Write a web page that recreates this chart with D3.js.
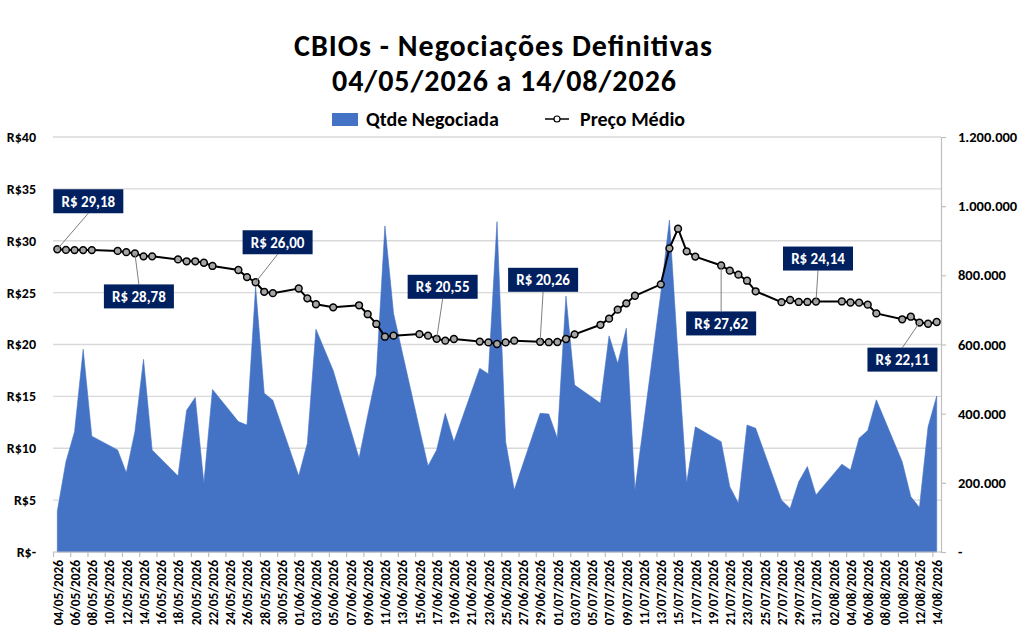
<!DOCTYPE html>
<html><head><meta charset="utf-8">
<script src="https://cdn.jsdelivr.net/npm/d3@7"></script>
<style>body{margin:0;background:#fff} svg{display:block}</style>
</head><body><svg id="c" width="1024" height="638"></svg>
<script>
// ---------- DATA ----------
const title1 = "CBIOs - Negociações Definitivas";
const title2 = "04/05/2026 a 14/08/2026";
const seriesNames = ["Qtde Negociada", "Preço Médio"];

const dates = [
 "2026-05-04","2026-05-05","2026-05-06","2026-05-07","2026-05-08",
 "2026-05-11","2026-05-12","2026-05-13","2026-05-14","2026-05-15",
 "2026-05-18","2026-05-19","2026-05-20","2026-05-21","2026-05-22",
 "2026-05-25","2026-05-26","2026-05-27","2026-05-28","2026-05-29",
 "2026-06-01","2026-06-02","2026-06-03","2026-06-05",
 "2026-06-08","2026-06-09","2026-06-10","2026-06-11","2026-06-12",
 "2026-06-15","2026-06-16","2026-06-17","2026-06-18","2026-06-19",
 "2026-06-22","2026-06-23","2026-06-24","2026-06-25","2026-06-26",
 "2026-06-29","2026-06-30","2026-07-01","2026-07-02","2026-07-03",
 "2026-07-06","2026-07-07","2026-07-08","2026-07-09","2026-07-10",
 "2026-07-13","2026-07-14","2026-07-15","2026-07-16","2026-07-17",
 "2026-07-20","2026-07-21","2026-07-22","2026-07-23","2026-07-24",
 "2026-07-27","2026-07-28","2026-07-29","2026-07-30","2026-07-31",
 "2026-08-03","2026-08-04","2026-08-05","2026-08-06","2026-08-07",
 "2026-08-10","2026-08-11","2026-08-12","2026-08-13","2026-08-14"
];
const qtde = [
 118000,261000,348000,586000,335000,
 295000,229000,348000,557000,295000,
 220000,410000,447000,199000,470000,
 377000,367000,767000,459000,439000,
 220000,314000,644000,525000,
 271000,395000,512000,943000,690000,
 357000,249000,295000,401000,319000,
 531000,515000,955000,319000,179000,
 401000,399000,329000,740000,483000,
 430000,625000,545000,647000,179000,
 748000,960000,565000,199000,362000,
 319000,189000,141000,367000,358000,
 150000,126000,203000,247000,165000,
 254000,237000,329000,351000,440000,
 261000,160000,129000,362000,451000
];
const preco = [
 29.18,29.12,29.10,29.10,29.10,
 29.02,28.90,28.78,28.50,28.50,
 28.20,28.02,28.02,27.88,27.57,
 27.18,26.50,26.00,25.08,24.95,
 25.40,24.45,23.88,23.58,
 23.78,22.92,21.98,20.75,20.85,
 21.00,20.85,20.55,20.37,20.53,
 20.28,20.20,20.05,20.20,20.37,
 20.26,20.22,20.24,20.53,20.98,
 21.90,22.49,23.36,23.97,24.70,
 25.80,29.27,31.16,28.98,28.47,
 27.62,27.12,26.73,26.15,25.13,
 24.08,24.29,24.10,24.10,24.14,
 24.15,24.05,24.03,23.84,23.00,
 22.43,22.68,22.11,22.00,22.17
];
const leftTicks = [0,5,10,15,20,25,30,35,40];
const rightTicks = [0,200000,400000,600000,800000,1000000,1200000];
const calloutDates = ["2026-05-04","2026-05-13","2026-05-27","2026-06-17","2026-06-29","2026-07-20","2026-07-31","2026-08-12"];

// ---------- LAYOUT (styling only) ----------
const calloutOffsets = [[31,-48],[4,43],[22,-40],[6,-52],[3,-62],[0,58],[2,-43],[-17,37]];
const plot = {left:53, right:941, top:137, bottom:552};
const FONT = "Carlito, Lato, 'Open Sans', sans-serif";
const BLUE = "#4472C4", NAVY = "#002060";

const svg = d3.select("#c");
const parse = d3.utcParse("%Y-%m-%d");
const fmtDate = d3.utcFormat("%d/%m/%Y");
const data = dates.map((d,i)=>({date:parse(d), q:qtde[i], p:preco[i]}));
const start = data[0].date, end = data[data.length-1].date;
const halfDay = 12*3600*1000;

const x = d3.scaleUtc().domain([new Date(+start-halfDay), new Date(+end+halfDay)]).range([plot.left, plot.right]);
const yL = d3.scaleLinear().domain([0,40]).range([plot.bottom, plot.top]);
const yR = d3.scaleLinear().domain([0,1200000]).range([plot.bottom, plot.top]);
const halfPx = x(new Date(+start+halfDay)) - x(start);

// gridlines
svg.append("g").selectAll("line").data(leftTicks.filter(t=>t>0)).join("line")
  .attr("x1",plot.left).attr("x2",plot.right)
  .attr("y1",d=>yL(d)).attr("y2",d=>yL(d))
  .attr("stroke","#d9d9d9").attr("stroke-width",1.3);

// area
const area = d3.area().x(d=>x(d.date)).y0(yR(0)).y1(d=>yR(d.q));
svg.append("path").datum(data).attr("d",area).attr("fill",BLUE).attr("stroke",BLUE).attr("stroke-width",0.6);

// left axis labels
const fmtL = v => v===0 ? "R$-" : "R$" + v;
svg.append("g").selectAll("text").data(leftTicks).join("text")
  .attr("x",36).attr("y",d=>yL(d)).attr("dy","0.35em").attr("text-anchor","end")
  .attr("font-family",FONT).attr("font-weight","bold").attr("font-size",14).attr("fill","#000")
  .text(fmtL);

// right axis
const fmtR = v => v===0 ? "-" : d3.format(",")(v).replace(/,/g,".");
const gR = svg.append("g").attr("transform",`translate(${plot.right},0)`)
  .call(d3.axisRight(yR).tickValues(rightTicks).tickSize(5).tickPadding(12).tickFormat(fmtR));
gR.select(".domain").attr("stroke","#bfbfbf").attr("stroke-width",1.2);
gR.selectAll(".tick line").attr("stroke","#bfbfbf").attr("stroke-width",1.2);
gR.selectAll(".tick text").attr("font-family",FONT).attr("font-weight","bold").attr("font-size",14.5).attr("fill","#000");

// bottom axis
const tickDates = d3.range(0, Math.round((end-start)/864e5)+1, 2).map(i=>d3.utcDay.offset(start,i));
const gB = svg.append("g").attr("transform",`translate(0,${plot.bottom})`)
  .call(d3.axisBottom(x).tickValues(tickDates).tickSize(5).tickFormat(fmtDate));
gB.select(".domain").attr("d",`M${plot.left},0H${plot.right}`).attr("stroke","#bfbfbf").attr("stroke-width",1.2);
gB.selectAll(".tick line").attr("transform",`translate(${-halfPx},0)`).attr("stroke","#bfbfbf").attr("stroke-width",1.2);
gB.selectAll(".tick text")
  .attr("transform","rotate(-90)").attr("text-anchor","end").attr("x",-8).attr("y",0).attr("dy","0.36em")
  .attr("font-family",FONT).attr("font-weight","bold").attr("font-size",13.3).attr("fill","#000");

// price line
const line = d3.line().x(d=>x(d.date)).y(d=>yL(d.p));
svg.append("path").datum(data).attr("d",line).attr("fill","none").attr("stroke","#000").attr("stroke-width",2);
svg.append("g").selectAll("circle").data(data).join("circle")
  .attr("cx",d=>x(d.date)).attr("cy",d=>yL(d.p)).attr("r",3.4)
  .attr("fill","#a6a6a6").attr("stroke","#000").attr("stroke-width",1.5);

// callouts
const fmtP = v => "R$ " + v.toFixed(2).replace(".",",");
const bw = 70, bh = 24;
calloutDates.forEach((ds,i)=>{
  const d = data.find(e=>+e.date===+parse(ds));
  const px = x(d.date), py = yL(d.p);
  const cx = px + calloutOffsets[i][0], cy = py + calloutOffsets[i][1];
  const ey = cy > py ? cy - bh/2 : cy + bh/2;
  svg.append("line").attr("x1",cx).attr("y1",ey).attr("x2",px).attr("y2",py)
    .attr("stroke","#7f7f7f").attr("stroke-width",1);
  svg.append("rect").attr("x",cx-bw/2).attr("y",cy-bh/2).attr("width",bw).attr("height",bh).attr("fill",NAVY);
  svg.append("text").attr("x",cx).attr("y",cy).attr("dy","0.36em").attr("text-anchor","middle")
    .attr("font-family",FONT).attr("font-weight","bold").attr("font-size",15).attr("fill","#fff")
    .text(fmtP(d.p));
});

// title
svg.append("text").attr("x",503).attr("y",56).attr("text-anchor","middle")
  .attr("font-family",FONT).attr("font-weight","bold").attr("font-size",30)
  .attr("textLength",418).attr("lengthAdjust","spacing").text(title1);
svg.append("text").attr("x",504).attr("y",91).attr("text-anchor","middle")
  .attr("font-family",FONT).attr("font-weight","bold").attr("font-size",30)
  .attr("textLength",344).attr("lengthAdjust","spacing").text(title2);

// legend
const lg = svg.append("g");
lg.append("rect").attr("x",332).attr("y",113).attr("width",26).attr("height",13).attr("fill",BLUE);
lg.append("text").attr("x",366).attr("y",126).attr("font-family",FONT).attr("font-weight","bold").attr("font-size",20).text(seriesNames[0]);
lg.append("line").attr("x1",545).attr("x2",569).attr("y1",119).attr("y2",119).attr("stroke","#000").attr("stroke-width",1.5);
lg.append("circle").attr("cx",557).attr("cy",119).attr("r",3).attr("fill","#fff").attr("stroke","#000").attr("stroke-width",1.2);
lg.append("text").attr("x",580).attr("y",126).attr("font-family",FONT).attr("font-weight","bold").attr("font-size",20).text(seriesNames[1]);
</script></body></html>
